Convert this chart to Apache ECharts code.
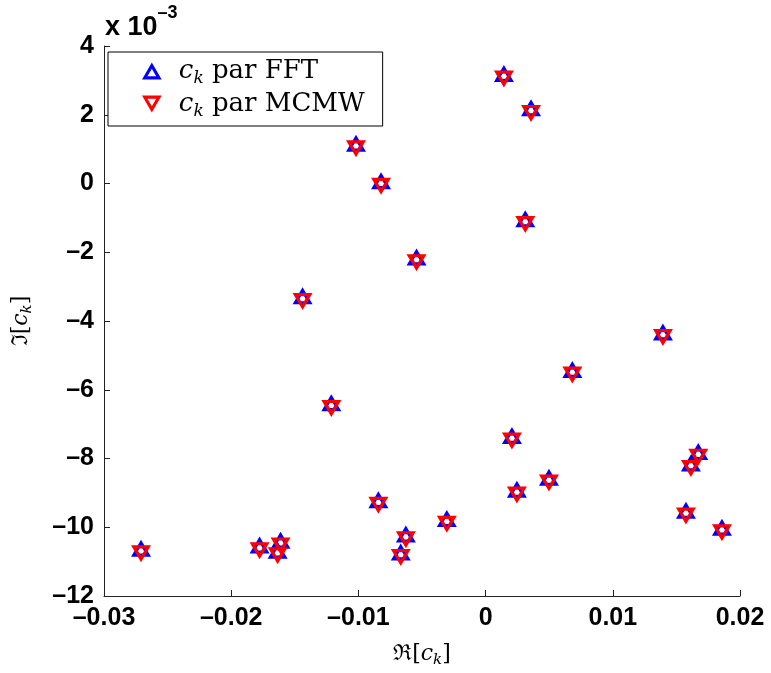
<!DOCTYPE html>
<html><head><meta charset="utf-8">
<script src="https://cdn.jsdelivr.net/npm/echarts@6/dist/echarts.min.js"></script>
<style>html,body{margin:0;padding:0;background:#fff}#c{width:771px;height:673px}</style>
</head><body><div id="c"></div>
<script>
// Real and imaginary parts of c_k (imaginary values in absolute units)
const reFFT = [-0.02709, -0.01777, -0.01612, -0.01635, -0.00627, -0.00667, -0.00843, -0.00305,
  0.00246, 0.00498, 0.00207, 0.00682, 0.01394, 0.01672, 0.01614, 0.01575, 0.01858,
  -0.01439, -0.01213, -0.01019, -0.00822, -0.00543, 0.00144, 0.00357, 0.00312];
const imFFT = [-10.69e-3, -10.60e-3, -10.46e-3, -10.75e-3, -10.28e-3, -10.80e-3, -9.28e-3, -9.83e-3,
  -8.98e-3, -8.63e-3, -7.41e-3, -5.49e-3, -4.40e-3, -7.88e-3, -8.21e-3, -9.59e-3, -10.08e-3,
  -3.35e-3, -6.46e-3, 1.09e-3, 0.0, -2.22e-3, 3.12e-3, 2.12e-3, -1.11e-3];
const reMCMW = [-0.02709, -0.01777, -0.01612, -0.01635, -0.00627, -0.00667, -0.00843, -0.00305,
  0.00246, 0.00498, 0.00207, 0.00682, 0.01394, 0.01672, 0.01614, 0.01575, 0.01858,
  -0.01439, -0.01213, -0.01019, -0.00822, -0.00543, 0.00144, 0.00357, 0.00312];
const imMCMW = [-10.69e-3, -10.60e-3, -10.46e-3, -10.75e-3, -10.28e-3, -10.80e-3, -9.28e-3, -9.83e-3,
  -8.98e-3, -8.63e-3, -7.41e-3, -5.49e-3, -4.40e-3, -7.88e-3, -8.21e-3, -9.59e-3, -10.08e-3,
  -3.35e-3, -6.46e-3, 1.09e-3, 0.0, -2.22e-3, 3.12e-3, 2.12e-3, -1.11e-3];
const xTickLabels = ['\u20130.03', '\u20130.02', '\u20130.01', '0', '0.01', '0.02'];
const yTickLabels = ['\u201312', '\u201310', '\u20138', '\u20136', '\u20134', '\u20132', '0', '2', '4'];
const seriesNames = ['FFT', 'MCMW'];

const pair = (xs, ys) => xs.map((x, i) => [x, ys[i]]);
const serif = "'DejaVu Serif', 'Liberation Serif', serif";
const sans = "'Liberation Sans', Arial, sans-serif";
const richMath = {
  a: { fontFamily: serif, fontSize: 22, color: '#000', lineHeight: 28 },
  i: { fontFamily: serif, fontSize: 22, fontStyle: 'italic', color: '#000', lineHeight: 28 },
  s: { fontFamily: serif, fontSize: 15, fontStyle: 'italic', color: '#000', lineHeight: 15, verticalAlign: 'bottom' }
};
const richLegend = {
  i: { fontFamily: serif, fontSize: 26, fontStyle: 'italic', color: '#000', lineHeight: 32 },
  s: { fontFamily: serif, fontSize: 17, fontStyle: 'italic', color: '#000', lineHeight: 17, verticalAlign: 'bottom' },
  r: { fontFamily: serif, fontSize: 26, color: '#000', lineHeight: 32 }
};
const axisCol = '#222';
// hollow triangles (outer contour + reversed inner contour = hole)
const triUp = 'path://M10,0L20,17.32L0,17.32ZM10,6.40L5.542,14.121L14.458,14.121Z';
const triDown = 'path://M0,0L20,0L10,17.32ZM5.542,3.199L10,10.92L14.458,3.199Z';
const mSize = [20, 17];

const chart = echarts.init(document.getElementById('c'), null, { renderer: 'canvas' });
chart.setOption({
  animation: false,
  backgroundColor: '#fff',
  grid: { left: 104, right: 31, top: 46, bottom: 74, containLabel: false },
  xAxis: {
    type: 'value', min: -0.03, max: 0.02, interval: 0.01,
    splitLine: { show: false },
    axisLine: { show: true, onZero: false, lineStyle: { color: axisCol, width: 1 } },
    axisTick: { show: true, inside: true, length: 6, lineStyle: { color: axisCol } },
    axisLabel: {
      margin: 10, color: '#000', fontFamily: sans, fontSize: 25, fontWeight: 'bold',
      formatter: v => xTickLabels[Math.round((v + 0.03) / 0.01)]
    },
    name: '{a|\u211C[}{i|c}{s|k}{a|]}', nameLocation: 'middle', nameGap: 44,
    nameTextStyle: { rich: richMath }
  },
  yAxis: {
    type: 'value', min: -0.012, max: 0.004, interval: 0.002,
    splitLine: { show: false },
    axisLine: { show: true, onZero: false, lineStyle: { color: axisCol, width: 1 } },
    axisTick: { show: true, inside: true, length: 6, lineStyle: { color: axisCol } },
    axisLabel: {
      margin: 10, color: '#000', fontFamily: sans, fontSize: 25, fontWeight: 'bold',
      formatter: v => yTickLabels[Math.round((v + 0.012) / 0.002)]
    },
    name: '{a|\u2111[}{i|c}{s|k}{a|]}', nameLocation: 'middle', nameGap: 69, nameRotate: 90,
    nameTextStyle: { rich: richMath }
  },
  legend: {
    left: 108, top: 52, orient: 'vertical',
    backgroundColor: '#fff', borderColor: '#000', borderWidth: 1, borderRadius: 0,
    padding: [6, 18, 6, 34], itemGap: 4, itemWidth: 20, itemHeight: 17,
    data: seriesNames,
    formatter: n => '{i|c}{s|k}{r| par ' + n + '}',
    textStyle: { rich: richLegend, padding: [0, 0, 0, 12] }
  },
  graphic: [{
    type: 'text', left: 105, top: 4, silent: true,
    style: {
      text: '{b|x 10}{p|\u20133}',
      rich: {
        b: { fontFamily: sans, fontSize: 27, fontWeight: 'bold', fill: '#000', lineHeight: 48 },
        p: { fontFamily: sans, fontSize: 18, fontWeight: 'bold', fill: '#000', lineHeight: 18, verticalAlign: 'top' }
      }
    }
  }],
  series: [
    {
      name: 'FFT', type: 'scatter', data: pair(reFFT, imFFT),
      symbol: triUp, symbolSize: mSize, symbolOffset: [0, -mSize[1] / 6],
      itemStyle: { color: '#0000ff', borderWidth: 0, opacity: 1 },
      emphasis: { disabled: true }, z: 2
    },
    {
      name: 'MCMW', type: 'scatter', data: pair(reMCMW, imMCMW),
      symbol: triDown, symbolSize: mSize, symbolOffset: [0, mSize[1] / 6],
      itemStyle: { color: '#ff0000', borderWidth: 0, opacity: 1 },
      emphasis: { disabled: true }, z: 3
    }
  ]
});
</script></body></html>
